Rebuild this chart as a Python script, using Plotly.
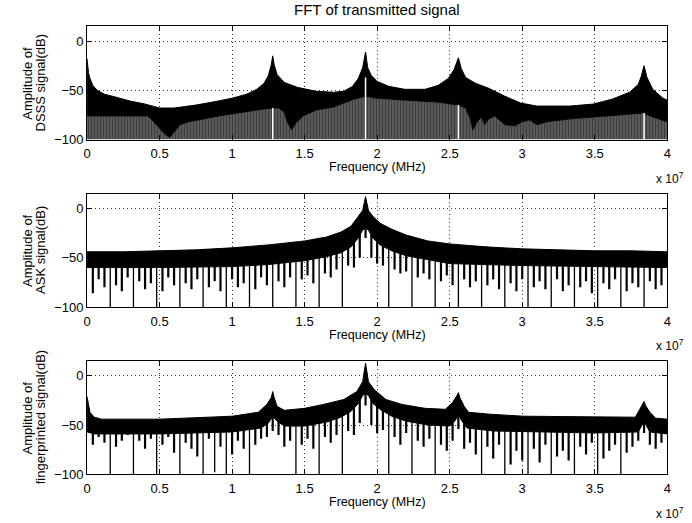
import plotly.graph_objects as go

# ---------------- data (frequency in units of 1e7 Hz, amplitude in dB) ----------------
FIG_TITLE = "FFT of transmitted signal"
X_TICKS = [0, 0.5, 1, 1.5, 2, 2.5, 3, 3.5, 4]
X_TICK_TEXT = ["0", "0.5", "1", "1.5", "2", "2.5", "3", "3.5", "4"]
Y_TICKS = [-100, -50, 0]
X_RANGE = [0, 4]
Y_RANGE = [-100, 15]
Y_LABELS = [("Amplitude of", "DSSS signal(dB)"),
            ("Amplitude of", "ASK signal(dB)"),
            ("Amplitude of", "fingerprinted signal(dB)")]
X_LABEL = "Frequency (MHz)"

# --- DSSS: upper envelope, top of hatched floor, white gaps
DSSS_UP_F = [0, 0.01, 0.02, 0.04, 0.07, 0.12, 0.2, 0.3, 0.4, 0.5, 0.6, 0.75, 0.9, 1.0, 1.1, 1.17, 1.22,
             1.25, 1.27, 1.28, 1.29, 1.31, 1.36, 1.45, 1.58, 1.7, 1.77, 1.83, 1.87, 1.9, 1.92, 1.935, 1.96,
             2.0, 2.08, 2.19, 2.33, 2.42, 2.49, 2.53, 2.56, 2.58, 2.61, 2.68, 2.77, 2.88, 2.99, 3.1, 3.33,
             3.49, 3.62, 3.74, 3.8, 3.82, 3.84, 3.86, 3.9, 3.97, 4.0]
DSSS_UP_V = [-18, -32, -38, -45, -50, -54, -57, -61, -64, -68, -68, -65, -61, -58, -54, -49, -43,
             -35, -24, -15, -24, -34, -42, -47, -51, -52, -51, -46, -38, -27, -11, -27, -35,
             -41, -46, -49, -49, -45, -38, -29, -17, -28, -37, -43, -48, -56, -63, -66, -66,
             -64, -59, -52, -44, -36, -25, -37, -49, -58, -60]
DSSS_LOW_F = [0, 0.42, 0.46, 0.5, 0.54, 0.57, 0.6, 0.64, 0.7, 0.78, 0.88, 1.0, 1.12, 1.22, 1.28, 1.32,
              1.36, 1.38, 1.41, 1.44, 1.49, 1.58, 1.7, 1.77, 1.84, 1.92, 2.0, 2.2, 2.42, 2.56, 2.61,
              2.64, 2.66, 2.69, 2.72, 2.74, 2.77, 2.81, 2.88, 2.95, 3.0, 3.05, 3.1, 3.17, 3.33, 3.49,
              3.67, 3.83, 3.9, 4.0]
DSSS_LOW_V = [-76, -76, -82, -88, -95, -98, -92, -85, -82, -80, -77, -74, -71, -69, -68, -68,
              -72, -82, -90, -83, -76, -70, -67, -63, -59, -56, -58, -60, -62, -65, -68,
              -78, -90, -82, -77, -85, -79, -76, -85, -86, -82, -80, -85, -82, -79, -77,
              -75, -73, -77, -82]
DSSS_GAP_F = [1.28, 1.92, 2.56, 3.84]
DSSS_GAP_TOP = [-68, -37, -65, -73]

# --- common comb grid for the ASK / fingerprinted spectra
TOOTH_F = [0.04, 0.08, 0.12, 0.16, 0.20, 0.24, 0.28, 0.32, 0.36, 0.40, 0.44, 0.48, 0.52, 0.56, 0.60,
           0.64, 0.68, 0.72, 0.76, 0.80, 0.84, 0.88, 0.92, 0.96, 1.00, 1.04, 1.08, 1.12, 1.16, 1.20,
           1.24, 1.28, 1.32, 1.36, 1.40, 1.44, 1.48, 1.52, 1.56, 1.60, 1.64, 1.68, 1.72, 1.76, 1.80,
           1.84, 1.88, 1.92, 1.96, 2.00, 2.04, 2.08, 2.12, 2.16, 2.20, 2.24, 2.28, 2.32, 2.36, 2.40,
           2.44, 2.48, 2.52, 2.56, 2.60, 2.64, 2.68, 2.72, 2.76, 2.80, 2.84, 2.88, 2.92, 2.96, 3.00,
           3.04, 3.08, 3.12, 3.16, 3.20, 3.24, 3.28, 3.32, 3.36, 3.40, 3.44, 3.48, 3.52, 3.56, 3.60,
           3.64, 3.68, 3.72, 3.76, 3.80, 3.84, 3.88, 3.92, 3.96]

# --- ASK
ASK_UP_F = [0, 0.25, 0.5, 0.75, 1.0, 1.25, 1.5, 1.65, 1.75, 1.82, 1.87, 1.9, 1.92, 1.94, 1.97, 2.02,
            2.1, 2.2, 2.35, 2.5, 2.75, 3.0, 3.25, 3.5, 3.75, 4.0]
ASK_UP_V = [-44, -44, -43, -42, -40, -37, -33, -29, -24, -18, -8, -2, 12, -2, -8, -15,
            -21, -27, -33, -36, -39, -41, -42, -43, -43, -44]
ASK_LOW_F = [0, 0.5, 1.0, 1.25, 1.5, 1.65, 1.75, 1.82, 1.87, 1.9, 1.92, 1.94, 1.97, 2.02, 2.1, 2.2,
             2.35, 2.5, 3.0, 3.5, 4.0]
ASK_LOW_V = [-60, -60, -59, -57, -53, -49, -45, -39, -30, -22, -20, -22, -30, -37, -43, -48,
             -52, -56, -58, -59, -60]
ASK_TOOTH_TOP = ([-50] * 25 + [-48] * 7 + [-45] * 5 + [-42] * 4 + [-36] * 3 + [-30] * 2 +
                 [-20, -10, -20] + [-25] * 2 + [-32] * 3 + [-38] * 4 + [-43] * 4 + [-48] * 37)
ASK_TOOTH_BOT = [-86, -72, -80, -100, -78, -84, -70, -100, -74, -82, -76, -100,
                 -84, -70, -78, -100, -76, -82, -72, -100, -80, -74, -84, -100,
                 -72, -80, -76, -100, -82, -70, -78, -100, -74, -80, -70, -100,
                 -72, -68, -76, -100, -66, -70, -62, -100, -58, -60, -50, -30,
                 -50, -56, -58, -100, -62, -66, -64, -100, -70, -66, -72, -100,
                 -74, -68, -78, -100, -72, -80, -74, -100, -78, -72, -82, -100,
                 -76, -84, -72, -100, -80, -74, -82, -100, -72, -84, -78, -100,
                 -80, -74, -86, -100, -76, -82, -72, -100, -84, -76, -80, -100,
                 -74, -82, -78]

# --- fingerprinted
FP_UP_F = [0, 0.01, 0.02, 0.05, 0.1, 0.5, 1.0, 1.18, 1.24, 1.27, 1.28, 1.29, 1.31, 1.36, 1.5, 1.63,
           1.77, 1.86, 1.9, 1.92, 1.94, 1.98, 2.06, 2.17, 2.33, 2.47, 2.52, 2.55, 2.56, 2.57, 2.6,
           2.63, 2.78, 3.01, 3.46, 3.78, 3.81, 3.83, 3.84, 3.85, 3.88, 3.92, 4.0]
FP_UP_V = [-21, -31, -37, -42, -44, -44, -41, -37, -29, -22, -16, -22, -31, -35, -33, -29,
           -24, -16, -6, 13, -6, -14, -24, -29, -33, -34, -27, -20, -17, -22, -31,
           -37, -39, -41, -42, -42, -34, -28, -26, -30, -37, -43, -44]
FP_LOW_F = [0, 0.05, 0.5, 1.0, 1.2, 1.25, 1.28, 1.31, 1.36, 1.5, 1.65, 1.75, 1.82, 1.87, 1.9, 1.92,
            1.94, 1.97, 2.02, 2.1, 2.2, 2.35, 2.5, 2.54, 2.56, 2.58, 2.62, 2.8, 3.0, 3.5, 3.8, 3.83,
            3.84, 3.85, 3.88, 4.0]
FP_LOW_V = [-57, -59, -59, -57, -53, -48, -41, -46, -51, -51, -47, -42, -36, -28, -20, -18,
            -20, -28, -34, -41, -46, -50, -51, -45, -39, -45, -53, -56, -57, -58, -57, -49,
            -45, -49, -57, -59]
FP_TOOTH_TOP = ([-50] * 24 + [-48] * 5 + [-46, -44, -40, -43] + [-46] * 5 + [-43] * 3 + [-37] * 3 +
                [-30] * 2 + [-20, -10, -20] + [-25] * 2 + [-32] * 3 + [-38] * 4 + [-42] * 4 +
                [-40, -35, -44] + [-48] * 30 + [-42] + [-48] * 3)
FP_TOOTH_BOT = [-70, -62, -68, -100, -72, -66, -60, -100, -66, -74, -64, -100,
                -70, -62, -78, -100, -68, -74, -82, -100, -64, -98, -72, -100,
                -80, -66, -74, -100, -70, -64, -62, -56, -60, -72, -66, -100,
                -70, -64, -74, -100, -62, -68, -60, -100, -56, -60, -48, -30,
                -50, -58, -55, -100, -62, -70, -58, -100, -66, -72, -64, -100,
                -70, -76, -66, -54, -74, -68, -80, -100, -72, -84, -70, -100,
                -90, -76, -86, -100, -74, -88, -70, -100, -82, -76, -86, -100,
                -72, -80, -68, -100, -84, -76, -70, -100, -78, -72, -66, -58,
                -70, -74, -68]

# ---------------- layout geometry ----------------
X_DOM = [0.1214, 0.9697]
Y_DOMS = [[0.7291, 0.9489], [0.4040, 0.6239], [0.0790, 0.2989]]
FONT = "Liberation Sans, Arial, Helvetica, sans-serif"
DEEP_DB = -95   # teeth reaching below this are drawn as thin notch lines

fig = go.Figure()


def axes_ids(i):
    return ("x", "y") if i == 0 else ("x%d" % (i + 1), "y%d" % (i + 1))


def add_band(i, uf, uv, lf, lv):
    xa, ya = axes_ids(i)
    fig.add_trace(go.Scatter(x=list(uf) + list(lf)[::-1], y=list(uv) + list(lv)[::-1],
                             fill="toself", fillcolor="black", mode="lines",
                             line=dict(color="black", width=1), xaxis=xa, yaxis=ya,
                             hoverinfo="skip", showlegend=False))


def add_sticks(i, f, top, bot, color="black", width=1.2):
    xa, ya = axes_ids(i)
    xs, ys = [], []
    for a, t, b in zip(f, top, bot):
        xs += [a, a, None]
        ys += [t, b, None]
    fig.add_trace(go.Scatter(x=xs, y=ys, mode="lines", line=dict(color=color, width=width),
                             xaxis=xa, yaxis=ya, hoverinfo="skip", showlegend=False))


def add_comb(i, f, top, bot):
    shallow = [(a, t, b) for a, t, b in zip(f, top, bot) if b > DEEP_DB]
    deep = [(a, t, b) for a, t, b in zip(f, top, bot) if b <= DEEP_DB]
    add_sticks(i, [s[0] for s in shallow], [s[1] for s in shallow], [s[2] for s in shallow],
               width=2.2)
    add_sticks(i, [s[0] for s in deep], [s[1] for s in deep], [s[2] for s in deep], width=1.3)


# DSSS: hatched floor, solid band, white gaps
fig.add_trace(go.Scatter(x=DSSS_LOW_F + [X_RANGE[1], X_RANGE[0]],
                         y=DSSS_LOW_V + [Y_RANGE[0], Y_RANGE[0]],
                         fill="toself", mode="lines", line=dict(width=0, color="black"),
                         fillpattern=dict(shape="|", fgcolor="black", bgcolor="#7a7a7a",
                                          size=3, solidity=0.7),
                         xaxis="x", yaxis="y", hoverinfo="skip", showlegend=False))
add_band(0, DSSS_UP_F, DSSS_UP_V, DSSS_LOW_F, DSSS_LOW_V)
add_sticks(0, DSSS_GAP_F, DSSS_GAP_TOP, [Y_RANGE[0]] * len(DSSS_GAP_F), color="white", width=1.5)

# ASK
add_comb(1, TOOTH_F, ASK_TOOTH_TOP, ASK_TOOTH_BOT)
add_band(1, ASK_UP_F, ASK_UP_V, ASK_LOW_F, ASK_LOW_V)

# fingerprinted
add_comb(2, TOOTH_F, FP_TOOTH_TOP, FP_TOOTH_BOT)
add_band(2, FP_UP_F, FP_UP_V, FP_LOW_F, FP_LOW_V)

axis_common = dict(showline=True, mirror="ticks", linecolor="black", linewidth=1,
                   ticks="inside", ticklen=5, tickcolor="black",
                   showgrid=True, gridcolor="#333333", griddash="1px,3px", gridwidth=1,
                   zeroline=False, tickfont=dict(family=FONT, size=13, color="black"))

layout = dict(width=692, height=523, margin=dict(l=0, r=0, t=0, b=0),
              paper_bgcolor="white", plot_bgcolor="white", showlegend=False)
annotations = []
for i in range(3):
    xa, ya = axes_ids(i)
    xkey = "xaxis" if i == 0 else "xaxis%d" % (i + 1)
    ykey = "yaxis" if i == 0 else "yaxis%d" % (i + 1)
    layout[xkey] = dict(domain=X_DOM, anchor=ya, range=X_RANGE, tickvals=X_TICKS,
                        ticktext=X_TICK_TEXT, ticklabelstandoff=2, **axis_common)
    layout[ykey] = dict(domain=Y_DOMS[i], anchor=xa, range=Y_RANGE, tickvals=Y_TICKS,
                        **axis_common)
    ybot, ytop = Y_DOMS[i]
    ymid = (ybot + ytop) / 2
    annotations.append(dict(text=Y_LABELS[i][0], x=24 / 692, y=ymid, xref="paper", yref="paper",
                            textangle=-90, showarrow=False, xanchor="center", yanchor="middle",
                            font=dict(family=FONT, size=13, color="black")))
    annotations.append(dict(text=Y_LABELS[i][1], x=37 / 692, y=ymid, xref="paper", yref="paper",
                            textangle=-90, showarrow=False, xanchor="center", yanchor="middle",
                            font=dict(family=FONT, size=13, color="black")))
    annotations.append(dict(text=X_LABEL, x=(X_DOM[0] + X_DOM[1]) / 2, y=ybot - 28 / 523,
                            xref="paper", yref="paper", showarrow=False, xanchor="center",
                            yanchor="middle", font=dict(family=FONT, size=12.5, color="black")))
    annotations.append(dict(text="x 10<sup>7</sup>", x=674 / 692, y=ybot - 39 / 523,
                            xref="paper", yref="paper", showarrow=False, xanchor="center",
                            yanchor="middle", font=dict(family=FONT, size=12, color="black")))

annotations.append(dict(text=FIG_TITLE, x=(X_DOM[0] + X_DOM[1]) / 2, y=1 - 10 / 523,
                        xref="paper", yref="paper", showarrow=False, xanchor="center",
                        yanchor="middle", font=dict(family=FONT, size=15, color="black")))
layout["annotations"] = annotations
fig.update_layout(**layout)

fig.write_html("out.html")
